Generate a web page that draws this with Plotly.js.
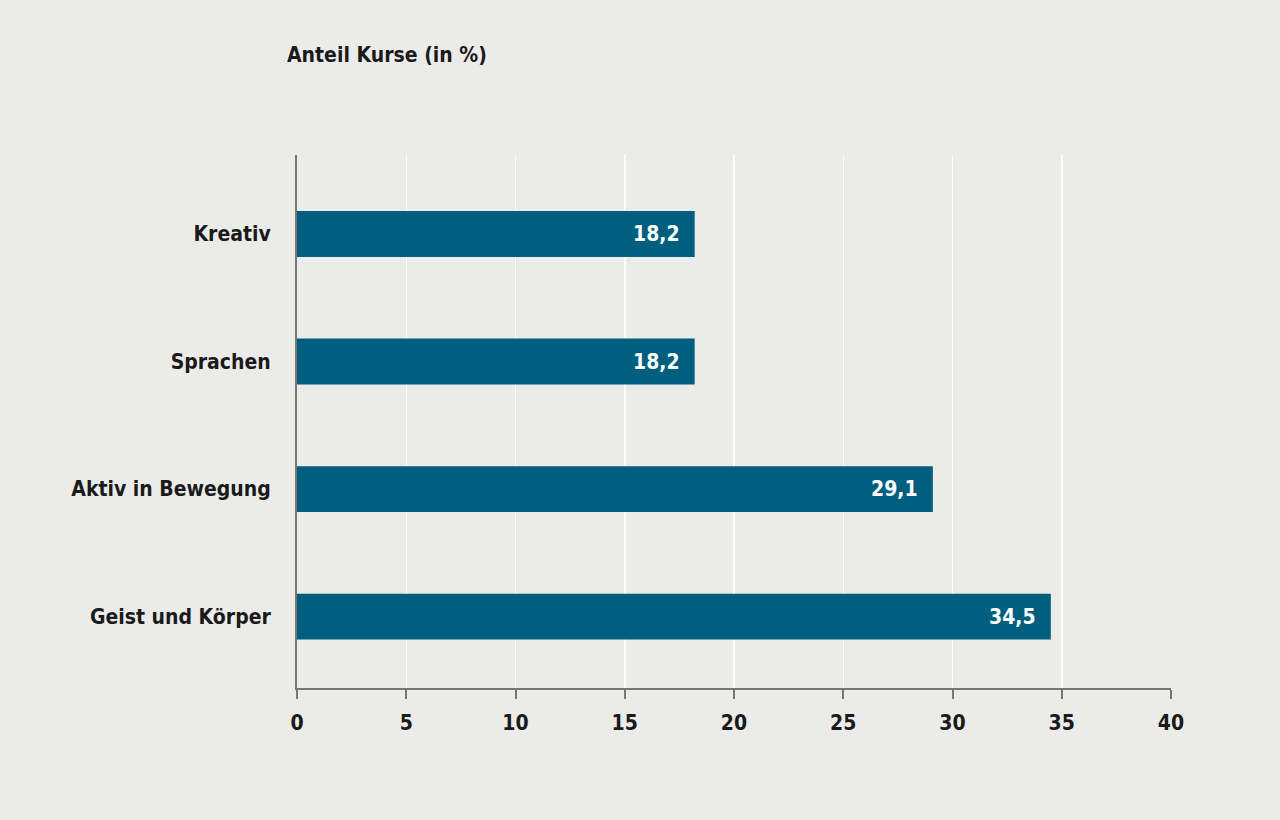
<!DOCTYPE html>
<html>
<head>
<meta charset="utf-8">
<script src="https://cdn.plot.ly/plotly-3.0.1.min.js"></script>
<style>
html,body{margin:0;padding:0;background:#ebecea;}
#chart{width:1280px;height:820px;}
</style>
</head>
<body>
<div id="chart"></div>
<script>
const categories = ["Geist und Körper", "Aktiv in Bewegung", "Sprachen", "Kreativ"];
const values = [34.5, 29.1, 18.2, 18.2];
const xTicks = [0, 5, 10, 15, 20, 25, 30, 35, 40];

const FONT = '"Liberation Sans Narrow", "DejaVu Sans Condensed", "Roboto", sans-serif';
const fmt = v => v.toFixed(1).replace('.', ',');

const trace = {
  type: 'bar',
  orientation: 'h',
  x: values,
  y: categories,
  width: 0.36,
  marker: {color: '#005f7f'},
  hoverinfo: 'none'
};

const annotations = values.map((v, i) => ({
  x: v, y: categories[i], xref: 'x', yref: 'y',
  text: '<b>' + fmt(v) + '</b>',
  showarrow: false, xanchor: 'right', yanchor: 'middle', xshift: -13,
  font: {family: FONT, size: 21, color: '#ffffff'}
}));

const layout = {
  width: 1280, height: 820,
  paper_bgcolor: '#ebecea', plot_bgcolor: '#ebecea',
  margin: {l: 297, r: 109, t: 155, b: 132},
  separators: ',.',
  showlegend: false,
  title: {
    text: '<b>Anteil Kurse (in %)</b>',
    xref: 'container', yref: 'container',
    x: 287/1280, xanchor: 'left', y: 1 - 55/820, yanchor: 'middle',
    font: {family: FONT, size: 21, color: '#1a1a1a'}
  },
  xaxis: {
    range: [0, 40], tickvals: xTicks, ticktext: xTicks.map(t => '<b>' + t + '</b>'),
    showgrid: true, gridcolor: '#ffffff', gridwidth: 1.5, zeroline: false,
    showline: true, linecolor: '#767676', linewidth: 2,
    ticks: 'outside', ticklen: 9, tickcolor: '#767676', tickwidth: 2,
    ticklabelstandoff: 6,
    tickfont: {family: FONT, size: 21, color: '#1a1a1a'},
    fixedrange: true
  },
  yaxis: {
    type: 'category', categoryorder: 'array', categoryarray: categories,
    range: [-0.56, 3.62],
    showgrid: false, zeroline: false,
    showline: true, linecolor: '#767676', linewidth: 2,
    ticks: 'outside', ticklen: 20, tickcolor: 'rgba(0,0,0,0)',
    ticktext: categories.map(c => '<b>' + c + '</b>'), tickvals: categories,
    tickfont: {family: FONT, size: 21, color: '#1a1a1a'},
    fixedrange: true
  },
  annotations: annotations
};

Plotly.newPlot('chart', [trace], layout, {displayModeBar: false, staticPlot: true});
</script>
</body>
</html>
